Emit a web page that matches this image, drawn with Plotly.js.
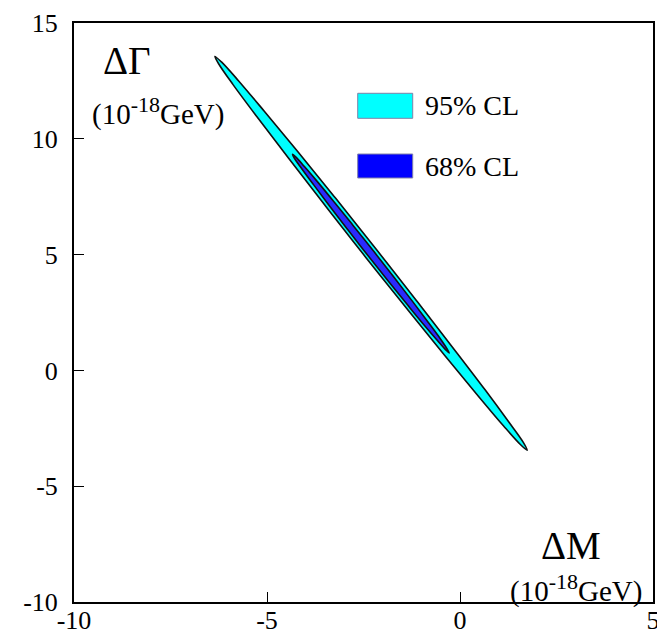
<!DOCTYPE html>
<html>
<head>
<meta charset="utf-8">
<script src="https://cdn.plot.ly/plotly-3.0.1.min.js"></script>
<style>html,body{margin:0;padding:0;background:#fff;}#chart{width:657px;height:629px;}</style>
</head>
<body>
<div id="chart"></div>
<script>
// 95% CL contour (ΔM, ΔΓ) points
const outerX = [1.74, 1.64, 1.26, 0.65, -0.17, -1.13, -2.17, -3.22, -4.21, -5.07, -5.74, -6.18, -6.35,
                -6.25, -5.88, -5.26, -4.44, -3.48, -2.44, -1.39, -0.40, 0.46, 1.13, 1.57, 1.74];
const outerY = [-3.45, -3.11, -2.22, -0.84, 0.95, 3.02, 5.23, 7.43, 9.46, 11.19, 12.51, 13.32, 13.56,
                13.23, 12.34, 10.95, 9.16, 7.09, 4.88, 2.69, 0.65, -1.08, -2.40, -3.21, -3.45];
// 68% CL contour
const innerX = [-0.28, -0.33, -0.51, -0.82, -1.23, -1.71, -2.23, -2.76, -3.26, -3.69, -4.03, -4.25, -4.34,
                -4.29, -4.10, -3.79, -3.38, -2.90, -2.38, -1.85, -1.35, -0.92, -0.58, -0.36, -0.28];
const innerY = [0.75, 0.92, 1.37, 2.07, 2.98, 4.02, 5.13, 6.24, 7.27, 8.14, 8.80, 9.21, 9.33,
                9.16, 8.71, 8.01, 7.10, 6.06, 4.95, 3.84, 2.81, 1.94, 1.28, 0.87, 0.75];

const xTickVals = [-10, -5, 0, 5];
const xTickText = ['-10', '-5', '0', '5'];
const yTickVals = [-10, -5, 0, 5, 10, 15];
const yTickText = ['-10', '-5', '0', '5', '10', '15'];
const legendLabels = ['95% CL', '68% CL'];
const legendColors = ['#00ffff', '#0000ff'];

const serif = 'Liberation Serif, Times New Roman, serif';
const unitText = '(10<sup><span style="font-size:22px">-18</span></sup>GeV)';

const traces = [
  {x: outerX, y: outerY, type: 'scatter', mode: 'lines', fill: 'toself',
   fillcolor: '#00ffff', line: {color: '#111', width: 1.6, shape: 'spline', smoothing: 1},
   hoverinfo: 'skip', showlegend: false},
  {x: innerX, y: innerY, type: 'scatter', mode: 'lines', fill: 'toself',
   fillcolor: '#2a2aff', line: {color: '#111', width: 1.6, shape: 'spline', smoothing: 1},
   hoverinfo: 'skip', showlegend: false}
];

const axisCommon = {
  showgrid: false, zeroline: false, showline: true, linecolor: '#000', linewidth: 2,
  mirror: true, ticks: 'inside', ticklen: 10, tickwidth: 1, tickcolor: '#000',
  tickmode: 'array', ticklabeloverflow: 'allow',
  tickfont: {family: serif, size: 26, color: '#000'}
};

const legendBoxY = [[0.8354, 0.8786], [0.7323, 0.7737]];
const legendTextY = [0.8575, 0.753];

const shapes = legendLabels.map((l, i) => ({
  type: 'rect', xref: 'paper', yref: 'paper', x0: 0.49, x1: 0.585,
  y0: legendBoxY[i][0], y1: legendBoxY[i][1],
  fillcolor: legendColors[i], line: {color: '#8080a8', width: 1}
}));

const annotations = legendLabels.map((l, i) => ({
  text: l, xref: 'paper', yref: 'paper', x: 0.6028, y: legendTextY[i],
  xanchor: 'left', yanchor: 'middle', showarrow: false,
  font: {family: serif, size: 28, color: '#000'}
}));
annotations.push(
  {text: 'ΔΓ', xref: 'paper', yref: 'paper', x: 0.046, y: 0.936, xanchor: 'left', yanchor: 'middle',
   showarrow: false, font: {family: serif, size: 39, color: '#000'}},
  {text: unitText, xref: 'paper', yref: 'paper', x: 0.027, y: 0.848, xanchor: 'left', yanchor: 'middle',
   showarrow: false, font: {family: serif, size: 29, color: '#000'}},
  {text: 'ΔM', xref: 'paper', yref: 'paper', x: 0.9136, y: 0.097, xanchor: 'right', yanchor: 'middle',
   showarrow: false, font: {family: serif, size: 39, color: '#000'}},
  {text: unitText, xref: 'paper', yref: 'paper', x: 0.985, y: 0.024, xanchor: 'right', yanchor: 'middle',
   showarrow: false, font: {family: serif, size: 29, color: '#000'}}
);

const layout = {
  width: 657, height: 629,
  margin: {l: 74, r: 4, t: 23, b: 27, pad: 0},
  paper_bgcolor: '#fff', plot_bgcolor: '#fff',
  showlegend: false,
  xaxis: Object.assign({}, axisCommon, {range: [-10, 5], tickvals: xTickVals, ticktext: xTickText, ticklabelstandoff: -6}),
  yaxis: Object.assign({}, axisCommon, {range: [-10, 15], tickvals: yTickVals, ticktext: yTickText, ticklabelstandoff: 9}),
  shapes: shapes,
  annotations: annotations
};

Plotly.newPlot('chart', traces, layout, {displayModeBar: false, staticPlot: true});
</script>
</body>
</html>
